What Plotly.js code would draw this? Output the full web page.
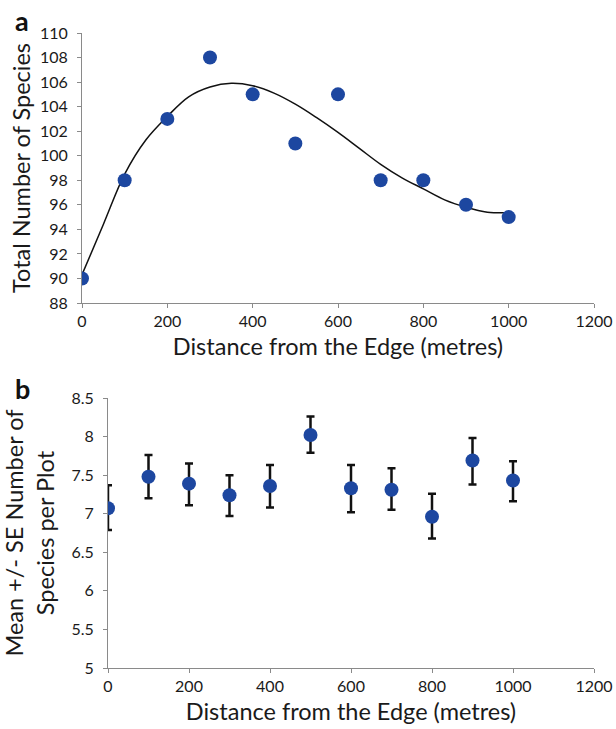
<!DOCTYPE html>
<html>
<head>
<meta charset="utf-8">
<script src="https://cdn.plot.ly/plotly-3.0.1.min.js"></script>
<style>html,body{margin:0;padding:0;background:#fff;}#chart{width:616px;height:729px;}</style>
</head>
<body>
<div id="chart"></div>
<script>
// Panel a: total species by distance
const distance = [0, 100, 200, 300, 400, 500, 600, 700, 800, 900, 1000];
const totalSpecies = [90, 98, 103, 108, 105, 101, 105, 98, 98, 96, 95];
// Trend curve
const trendX = [0, 50, 100, 150, 200, 250, 300, 350, 400, 450, 500, 550, 600, 650, 700, 750, 800, 850, 900, 950, 1000];
const trendY = [90.3, 94.4, 98.5, 101.3, 103.2, 104.8, 105.6, 105.9, 105.7, 105.1, 104.2, 103.1, 101.9, 100.6, 99.3, 98.2, 97.3, 96.4, 95.8, 95.4, 95.35];
// Panel b: mean +/- SE species per plot
const meanSpecies = [7.07, 7.48, 7.39, 7.24, 7.36, 8.02, 7.33, 7.31, 6.96, 7.69, 7.43];
const seUpper = [7.37, 7.76, 7.65, 7.50, 7.63, 8.26, 7.63, 7.59, 7.26, 7.98, 7.68];
const seLower = [6.79, 7.20, 7.11, 6.97, 7.08, 7.79, 7.02, 7.05, 6.68, 7.38, 7.16];
const xTicks = [0, 200, 400, 600, 800, 1000, 1200];
const yTicksB = [5, 5.5, 6, 6.5, 7, 7.5, 8, 8.5];

const errPlus = seUpper.map((u, i) => +(u - meanSpecies[i]).toFixed(3));
const errMinus = seLower.map((l, i) => +(meanSpecies[i] - l).toFixed(3));

const FONT = 'Lato, "Open Sans", sans-serif';
const BLUE = '#1D47A0';
const TXT = '#1a1a1a';

const traces = [
  {x: trendX, y: trendY, xaxis: 'x', yaxis: 'y', mode: 'lines', type: 'scatter',
   line: {color: '#111', width: 1.5, shape: 'spline'}, hoverinfo: 'skip'},
  {x: distance, y: totalSpecies, xaxis: 'x', yaxis: 'y', mode: 'markers', type: 'scatter',
   marker: {color: BLUE, size: 14}},
  {x: distance, y: meanSpecies, xaxis: 'x2', yaxis: 'y2', mode: 'markers', type: 'scatter',
   marker: {color: BLUE, size: 14},
   error_y: {type: 'data', symmetric: false, array: errPlus, arrayminus: errMinus,
             color: '#111', thickness: 2.5, width: 4}}
];

const axCommon = {
  showgrid: false, zeroline: false, showline: true, linecolor: '#8a8a8a', linewidth: 1,
  ticks: 'outside', ticklen: 4, tickcolor: '#8a8a8a', tickwidth: 1,
  tickfont: {family: FONT, size: 16, color: TXT}, fixedrange: true
};
const titleFont = {family: FONT, size: 23.5, color: TXT};

const layout = {
  width: 616, height: 729,
  margin: {l: 0, r: 0, t: 0, b: 0},
  paper_bgcolor: '#fff', plot_bgcolor: '#fff',
  showlegend: false,
  font: {family: FONT, color: TXT},
  xaxis: Object.assign({}, axCommon, {
    domain: [82/616, 594/616], anchor: 'y', range: [0, 1200], tickvals: xTicks,
    title: {text: 'Distance from the Edge (metres)', font: titleFont, standoff: 9}
  }),
  yaxis: Object.assign({}, axCommon, {
    domain: [1 - 303/729, 1 - 33/729], anchor: 'x', range: [88, 110], dtick: 2,
    ticklabelstandoff: 6,
    title: {text: 'Total Number of Species', font: titleFont, standoff: 2}
  }),
  xaxis2: Object.assign({}, axCommon, {
    domain: [108/616, 594/616], anchor: 'y2', range: [0, 1200], tickvals: xTicks,
    title: {text: 'Distance from the Edge (metres)', font: titleFont, standoff: 9}
  }),
  yaxis2: Object.assign({}, axCommon, {
    domain: [1 - 668/729, 1 - 398/729], anchor: 'x2', range: [5, 8.5],
    tickvals: yTicksB, ticktext: yTicksB.map(String),
    ticklabelstandoff: 6,
    title: {text: 'Mean +/- SE Number of<br>Species per Plot', font: titleFont, standoff: 12}
  }),
  annotations: [
    {text: '<b>a</b>', xref: 'paper', yref: 'paper', x: 13/616, y: 1 - 20/729, xanchor: 'left', yanchor: 'middle',
     showarrow: false, font: {family: FONT, size: 27, color: '#111'}},
    {text: '<b>b</b>', xref: 'paper', yref: 'paper', x: 13/616, y: 1 - 388/729, xanchor: 'left', yanchor: 'middle',
     showarrow: false, font: {family: FONT, size: 27, color: '#111'}}
  ]
};

Plotly.newPlot('chart', traces, layout, {displayModeBar: false, staticPlot: true});
</script>
</body>
</html>
